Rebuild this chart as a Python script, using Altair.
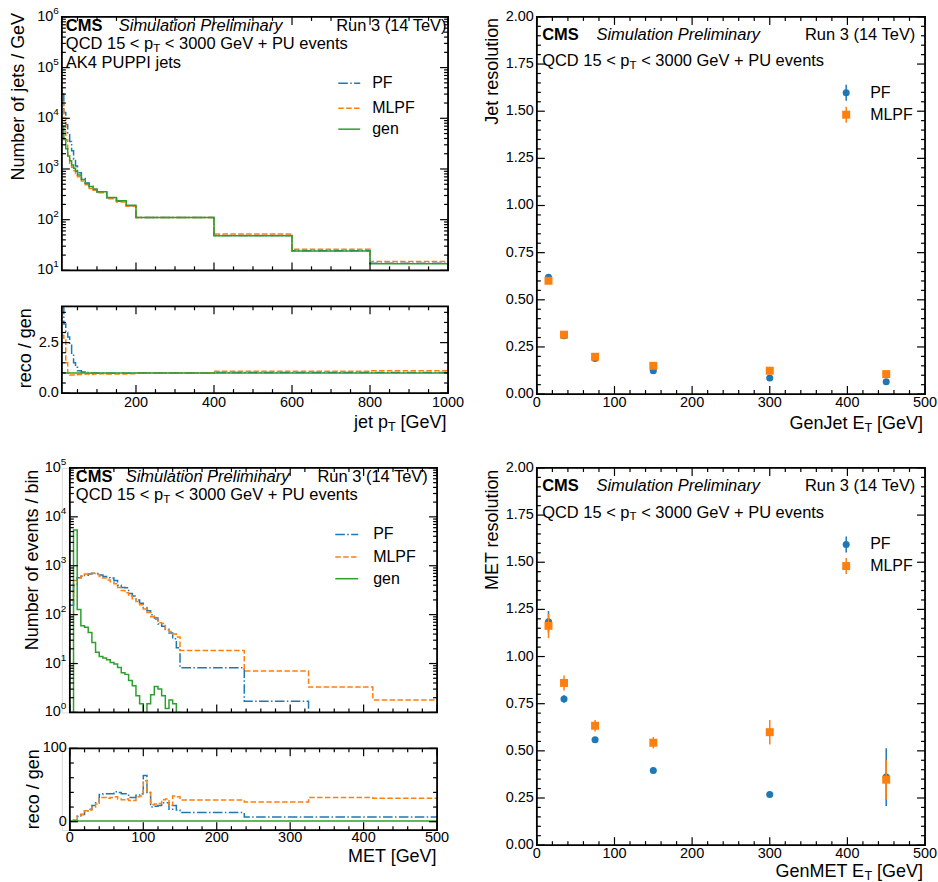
import altair as alt
import pandas as pd

# ---------------- data ----------------
# jet pT spectrum (number of jets / GeV), variable bins
jet_edges = [10, 15, 20, 25, 30, 35, 40, 45, 50, 60, 70, 80, 90, 100, 125, 150, 175, 200, 400, 600, 800, 1000]
jet_pf = [30000, 13000, 7500, 5000, 3500, 2300, 1550, 1150, 840, 650, 530, 450, 400, 350, 270, 230, 188, 110, 49, 24.5, 13.8]
jet_mlpf = [20000, 10000, 3750, 1800, 1300, 1080, 930, 810, 700, 577, 490, 414, 380, 340, 260, 222, 185, 110, 52, 26, 15]
jet_gen = [7000, 3800, 2500, 1800, 1450, 1200, 1030, 900, 760, 620, 520, 450, 400, 355, 275, 235, 192, 110, 48, 24, 13.5]

# MET spectrum (number of events / bin)
met_edges = [0, 5, 10, 15, 20, 25, 30, 35, 40, 45, 50, 55, 60, 65, 70, 75, 80, 85, 90, 95, 100,
             105, 110, 115, 120, 125, 130, 135, 140, 145, 150, 237.5, 325, 412.5, 500]
met_pf = [155, 400, 570, 600, 640, 680, 700, 690, 650, 600, 570, 560, 500, 400, 360, 355, 270, 240, 200, 170,
          140, 120, 100, 85, 64, 58, 50, 42, 32, 21, 8.2, 1.7, 0, 0]
met_mlpf = [200, 500, 560, 620, 680, 700, 690, 660, 600, 560, 510, 470, 430, 360, 310, 280, 240, 210, 185, 160,
            130, 110, 90, 80, 68, 66, 48, 45, 40, 35, 18.5, 7.0, 3.3, 1.8]
met_gen = [0, 5400, 128, 59, 55, 43, 27, 17, 14, 13, 12, 10.5, 9.8, 8.3, 6.5, 6, 4.5, 3.5, 2.2, 1.5,
           0, 1.5, 2.3, 3.4, 3.0, 2.2, 1.2, 1.8, 1.5, 1.0, 0, 0, 0, 0]
met_ratio_pf = [0.5, 2, 7, 10, 15, 17, 22, 26, 37, 38, 38, 38, 41, 40, 38, 38, 33, 33, 36, 38,
                63, 40, 20, 21, 22, 26, 26, 17, 22, 16, 12.5, 6.5, 6.5, 6.5]
met_ratio_mlpf = [0.5, 2.5, 8, 10, 15, 16, 20, 24, 33, 33, 32, 33, 34, 31, 30, 31, 29, 29, 34, 35,
                  56, 40, 23, 24, 25, 30, 31, 22, 35, 34, 29.5, 27, 33, 32]
met_ratio_gen = [1] * 34

# resolutions
res_x = [15, 35, 75, 150, 300, 450]
jet_res_pf = [0.619, 0.309, 0.189, 0.124, 0.085, 0.065]
jet_err_pf = [0.006, 0.004, 0.004, 0.004, 0.005, 0.006]
jet_res_mlpf = [0.601, 0.315, 0.198, 0.150, 0.124, 0.106]
jet_err_mlpf = [0.006, 0.004, 0.004, 0.004, 0.005, 0.006]
met_res_pf = [1.184, 0.775, 0.559, 0.396, 0.268, 0.361]
met_err_pf = [0.057, 0.02, 0.012, 0.015, 0.012, 0.153]
met_res_mlpf = [1.163, 0.86, 0.633, 0.543, 0.599, 0.347]
met_err_mlpf = [0.065, 0.04, 0.03, 0.03, 0.065, 0.105]

# tick values / labels
jet_x_major = [200, 400, 600, 800, 1000]
jet_x_minor = [50, 100, 150, 250, 300, 350, 450, 500, 550, 650, 700, 750, 850, 900, 950]
e500_major = [0, 100, 200, 300, 400, 500]
e500_minor = [20, 40, 60, 80, 120, 140, 160, 180, 220, 240, 260, 280, 320, 340, 360, 380, 420, 440, 460, 480]
res_major = [0, 0.25, 0.5, 0.75, 1.0, 1.25, 1.5, 1.75, 2.0]
res_labels = ["0.00", "0.25", "0.50", "0.75", "1.00", "1.25", "1.50", "1.75", "2.00"]
jet_y_major = [1e1, 1e2, 1e3, 1e4, 1e5, 1e6]
jet_y_exp = ["1", "2", "3", "4", "5", "6"]
met_y_major = [1e0, 1e1, 1e2, 1e3, 1e4, 1e5]
met_y_exp = ["0", "1", "2", "3", "4", "5"]

# ---------------- style ----------------
FONT = "Liberation Sans"
BLUE, ORANGE, GREEN = "#1f77b4", "#ff7f0e", "#2ca02c"
DASH_MLPF = [5.5, 2.4]
DASH_PF = [9.6, 2.4, 1.5, 2.4]
LW = 1.5
TMAJ, TMIN = 8, 4
LFS = 14.5   # tick label size
HFS = 16.5   # header text size
ONE = pd.DataFrame({"k": [0]})

HW = {' ': 278, '(': 333, ')': 333, '+': 584, '/': 278, '<': 584, '[': 278, ']': 278, '.': 278,
      'A': 667, 'C': 722, 'D': 722, 'E': 667, 'F': 611, 'G': 778, 'I': 278, 'J': 500, 'K': 667,
      'L': 556, 'M': 833, 'N': 722, 'P': 667, 'Q': 778, 'R': 722, 'S': 667, 'T': 611, 'U': 722, 'V': 667,
      'a': 556, 'b': 556, 'c': 500, 'e': 556, 'f': 278, 'g': 556, 'i': 222, 'j': 222, 'k': 500, 'l': 222,
      'm': 833, 'n': 556, 'o': 556, 'p': 556, 'r': 333, 's': 500, 't': 278, 'u': 556, 'v': 500, 'y': 500}


def tw(s, size):
    return sum(HW.get(c, 556) for c in s) * size / 1000.0


def txt(s, x, y, size=HFS, style="normal", weight="normal", align="left", baseline="alphabetic", angle=0):
    kw = dict(text=s, font=FONT, fontSize=size, fontStyle=style, fontWeight=weight,
              align=align, baseline=baseline, color="black")
    if angle:
        kw["angle"] = angle
    return alt.Chart(ONE).mark_text(**kw).encode(x=alt.value(x), y=alt.value(y))


def rich(parts, x, y, size=HFS, anchor="left"):
    sub = size * 0.7
    widths = [tw(t, sub if s else size) for t, s in parts]
    cx = x - sum(widths) if anchor == "right" else x
    out = []
    for (t, s), w in zip(parts, widths):
        fs = sub if s else size
        lead = len(t) - len(t.lstrip(" "))
        out.append(txt(t.strip(" "), cx + tw(" " * lead, fs), y + (2.5 if s else 0), size=fs))
        cx += w
    return out


def spacer(x, y):
    # invisible mark that fixes the extent of a panel for the concat layout
    return alt.Chart(ONE).mark_rule(opacity=0, strokeWidth=0.5).encode(
        x=alt.value(x), x2=alt.value(x + 0.5), y=alt.value(y))


def frame(ox, W, H):
    return alt.Chart(ONE).mark_rect(fillOpacity=0, stroke="black", strokeWidth=1.8).encode(
        x=alt.value(ox), x2=alt.value(ox + W), y=alt.value(0), y2=alt.value(H))


def header(ox, x_cms, x_sim, x_run, y1, y2, y3=None):
    out = [txt("CMS", ox + x_cms, y1, weight="bold"),
           txt("Simulation Preliminary", ox + x_sim, y1, style="italic"),
           txt("Run 3 (14 TeV)", ox + x_run, y1, align="right")]
    out += rich([("QCD 15 < p", False), ("T", True), (" < 3000 GeV + PU events", False)], ox + x_cms, y2)
    if y3 is not None:
        out.append(txt("AK4 PUPPI jets", ox + x_cms, y3))
    return out


def xlabels(vals, labels, xs, y):
    df = pd.DataFrame({"v": vals, "t": labels})
    return alt.Chart(df).mark_text(font=FONT, fontSize=LFS, align="center", baseline="top", color="black").encode(
        x=alt.X("v:Q", scale=xs, axis=None), y=alt.value(y), text="t:N")


def ylabels(vals, labels, ys, x):
    df = pd.DataFrame({"v": vals, "t": labels})
    return alt.Chart(df).mark_text(font=FONT, fontSize=LFS, align="right", baseline="middle", color="black").encode(
        y=alt.Y("v:Q", scale=ys, axis=None), x=alt.value(x), text="t:N")


def ylog_labels(vals, exps, ys, x):
    df = pd.DataFrame({"v": vals, "e": exps})
    ew = 10 * 0.556
    base = alt.Chart(df).mark_text(text="10", font=FONT, fontSize=LFS, align="right", baseline="middle",
                                   color="black").encode(y=alt.Y("v:Q", scale=ys, axis=None), x=alt.value(x - ew))
    sup = alt.Chart(df).mark_text(font=FONT, fontSize=10, align="left", baseline="middle", dy=-6,
                                  color="black").encode(y=alt.Y("v:Q", scale=ys, axis=None),
                                                        x=alt.value(x - ew), text="e:N")
    return [base, sup]


def ytitle(s, x, ytop):
    return txt(s, x, ytop, size=18, align="right", baseline="middle", angle=270)


def frame_ticks(xmaj, xmin, ymaj, ymin, ox, W, H, xs, ys):
    out = []
    for vals_x, vals_y, L in ((xmaj, ymaj, TMAJ), (xmin, ymin, TMIN)):
        dx = pd.DataFrame({"v": vals_x})
        dy = pd.DataFrame({"v": vals_y})
        for y1, y2 in ((0, L), (H - L, H)):
            out.append(alt.Chart(dx).mark_rule(color="black", strokeWidth=1.2).encode(
                x=alt.X("v:Q", scale=xs, axis=None), y=alt.value(y1), y2=alt.value(y2)))
        for x1, x2 in ((ox, ox + L), (ox + W - L, ox + W)):
            out.append(alt.Chart(dy).mark_rule(color="black", strokeWidth=1.2).encode(
                y=alt.Y("v:Q", scale=ys, axis=None), x=alt.value(x1), x2=alt.value(x2)))
    return out


def step_df(edges, vals):
    ys = [v if v > 0 else 1e-3 for v in vals]  # empty bins drawn below the axis (clipped)
    return pd.DataFrame({"x": list(edges), "y": ys + [ys[-1]]})


def hist_line(df, color, dash, xs, ys):
    kw = dict(interpolate="step-after", clip=True, color=color, strokeWidth=LW)
    if dash:
        kw["strokeDash"] = dash
    return alt.Chart(df).mark_line(**kw).encode(
        x=alt.X("x:Q", scale=xs, axis=None), y=alt.Y("y:Q", scale=ys, axis=None))


def line_legend(x1, x2, xt, ys):
    out = []
    for (lab, col, dash), y in zip([("PF", BLUE, DASH_PF), ("MLPF", ORANGE, DASH_MLPF), ("gen", GREEN, None)], ys):
        kw = dict(color=col, strokeWidth=LW)
        if dash:
            kw["strokeDash"] = dash
        out.append(alt.Chart(ONE).mark_rule(**kw).encode(x=alt.value(x1), x2=alt.value(x2), y=alt.value(y)))
        out.append(txt(lab, xt, y, size=16, baseline="middle"))
    return out


def marker_legend(xm, xt, ys):
    out = []
    for (lab, col, shp, sz), y in zip([("PF", BLUE, "circle", 50), ("MLPF", ORANGE, "square", 64)], ys):
        out.append(alt.Chart(ONE).mark_rule(color=col, strokeWidth=LW).encode(
            x=alt.value(xm), y=alt.value(y - 8), y2=alt.value(y + 8)))
        out.append(alt.Chart(ONE).mark_point(shape=shp, size=sz, filled=True, opacity=1, color=col).encode(
            x=alt.value(xm), y=alt.value(y)))
        out.append(txt(lab, xt, y, size=16, baseline="middle"))
    return out


def res_layers(vals_pf, err_pf, vals_ml, err_ml, xs, ys):
    df = pd.DataFrame({"x": res_x,
                       "pf": vals_pf, "pf_lo": [v - e for v, e in zip(vals_pf, err_pf)],
                       "pf_hi": [v + e for v, e in zip(vals_pf, err_pf)],
                       "ml": vals_ml, "ml_lo": [v - e for v, e in zip(vals_ml, err_ml)],
                       "ml_hi": [v + e for v, e in zip(vals_ml, err_ml)]})
    base = alt.Chart(df)
    X = alt.X("x:Q", scale=xs, axis=None)
    return [
        base.mark_rule(color=BLUE, strokeWidth=LW).encode(
            x=X, y=alt.Y("pf_lo:Q", scale=ys, axis=None), y2="pf_hi:Q"),
        base.mark_point(shape="circle", size=50, filled=True, opacity=1, color=BLUE).encode(
            x=X, y=alt.Y("pf:Q", scale=ys, axis=None)),
        base.mark_rule(color=ORANGE, strokeWidth=LW).encode(
            x=X, y=alt.Y("ml_lo:Q", scale=ys, axis=None), y2="ml_hi:Q"),
        base.mark_point(shape="square", size=64, filled=True, opacity=1, color=ORANGE).encode(
            x=X, y=alt.Y("ml:Q", scale=ys, axis=None)),
    ]


def log_minor(lo, hi):
    return [m * 10.0 ** k for k in range(lo, hi) for m in range(2, 10)]


# ---------------- top-left: jet pT ----------------
W1, H1, H1r = 387, 254, 87
jx = alt.Scale(domain=[10, 1000], nice=False, zero=False)
jy = alt.Scale(type="log", domain=[10, 1e6], nice=False)
jr = alt.Scale(domain=[0, 4.3], nice=False, zero=False)

tl = alt.layer(
    hist_line(step_df(jet_edges, jet_pf), BLUE, DASH_PF, jx, jy),
    hist_line(step_df(jet_edges, jet_mlpf), ORANGE, DASH_MLPF, jx, jy),
    hist_line(step_df(jet_edges, jet_gen), GREEN, None, jx, jy),
    *frame_ticks(jet_x_major, jet_x_minor, jet_y_major, log_minor(1, 6), 0, W1, H1, jx, jy),
    frame(0, W1, H1),
    *ylog_labels(jet_y_major, jet_y_exp, jy, x=-3),
    ytitle("Number of jets / GeV", -43, -4),
    *header(0, 4, 57, 385.5, 14, 32.5, 51),
    *line_legend(277, 299, 311, [66.5, 91.5, 112.5]),
    spacer(-54, -13), spacer(-54, H1 + 10),
).properties(width=W1, height=H1)

jr_df = pd.DataFrame({"x": jet_edges,
                      "pf": [a / b for a, b in zip(jet_pf, jet_gen)] + [jet_pf[-1] / jet_gen[-1]],
                      "ml": [a / b for a, b in zip(jet_mlpf, jet_gen)] + [jet_mlpf[-1] / jet_gen[-1]],
                      "gen": [1.0] * len(jet_edges)})
tlr = alt.layer(
    hist_line(jr_df.rename(columns={"pf": "y"}), BLUE, DASH_PF, jx, jr),
    hist_line(jr_df.rename(columns={"ml": "y"}), ORANGE, DASH_MLPF, jx, jr),
    hist_line(jr_df.rename(columns={"gen": "y"}), GREEN, None, jx, jr),
    *frame_ticks(jet_x_major, jet_x_minor, [0, 2.5], [0.5, 1.0, 1.5, 2.0, 3.0, 3.5, 4.0], 0, W1, H1r, jx, jr),
    frame(0, W1, H1r),
    xlabels(jet_x_major, [str(v) for v in jet_x_major], jx, H1r + 2.5),
    ylabels([0, 2.5], ["0.0", "2.5"], jr, x=-3),
    ytitle("reco / gen", -36, 2),
    *rich([("jet p", False), ("T", True), (" [GeV]", False)], W1 - 1.5, H1r + 35, size=18, anchor="right"),
    spacer(-54, 0),
).properties(width=W1, height=H1r)

# ---------------- top-right: jet resolution ----------------
WR, HR = 389, 378
rx = alt.Scale(domain=[0, 500], nice=False, zero=False)
ry = alt.Scale(domain=[0, 2], nice=False, zero=False)
res_minor = [round(0.05 * i, 2) for i in range(1, 40) if i % 5]
tr = alt.layer(
    *res_layers(jet_res_pf, jet_err_pf, jet_res_mlpf, jet_err_mlpf, rx, ry),
    *frame_ticks(e500_major, e500_minor, res_major, res_minor, 0, WR, HR, rx, ry),
    frame(0, WR, HR),
    xlabels(e500_major, [str(v) for v in e500_major], rx, HR + 2),
    ylabels(res_major, res_labels, ry, x=-3),
    ytitle("Jet resolution", -43.5, 1),
    *header(0, 5.3, 59.7, 379.3, 22.7, 49.3),
    *marker_legend(310, 334, [76, 98]),
    *rich([("GenJet E", False), ("T", True), (" [GeV]", False)], WR - 2, HR + 35, size=18, anchor="right"),
    spacer(-53, -13), spacer(-53, HR + 40),
).properties(width=WR, height=HR)

# ---------------- bottom-left: MET (plot area shifted right by OX inside its view) ----------------
OX = 8
W2, H2, H2r = 368, 245, 82
mx = alt.Scale(domain=[0, 500], range=[OX, OX + W2], nice=False, zero=False)
my = alt.Scale(type="log", domain=[1, 1e5], nice=False)
mr = alt.Scale(domain=[-11.5, 100], nice=False, zero=False)
bl = alt.layer(
    hist_line(step_df(met_edges, met_pf), BLUE, DASH_PF, mx, my),
    hist_line(step_df(met_edges, met_mlpf), ORANGE, DASH_MLPF, mx, my),
    hist_line(step_df(met_edges, met_gen), GREEN, None, mx, my),
    *frame_ticks(e500_major, e500_minor, met_y_major, log_minor(0, 5), OX, W2, H2, mx, my),
    frame(OX, W2, H2),
    *ylog_labels(met_y_major, met_y_exp, my, x=OX - 3.5),
    ytitle("Number of events / bin", OX - 36.5, 1.7),
    *header(OX, 6, 56, 358.7, 14, 32.5),
    *line_legend(OX + 266, OX + 289, OX + 304, [66.7, 89.3, 111]),
    spacer(OX - 62, -13), spacer(OX - 62, H2 + 10),
).properties(width=W2 + OX, height=H2)

blr = alt.layer(
    hist_line(step_df(met_edges, met_ratio_pf), BLUE, DASH_PF, mx, mr),
    hist_line(step_df(met_edges, met_ratio_mlpf), ORANGE, DASH_MLPF, mx, mr),
    hist_line(step_df(met_edges, met_ratio_gen), GREEN, None, mx, mr),
    *frame_ticks(e500_major, e500_minor, [0, 100], [20, 40, 60, 80], OX, W2, H2r, mx, mr),
    frame(OX, W2, H2r),
    xlabels(e500_major, [str(v) for v in e500_major], mx, H2r + 1),
    ylabels([0, 100], ["0", "100"], mr, x=OX - 3),
    ytitle("reco / gen", OX - 36, 1),
    txt("MET [GeV]", OX + W2 - 0.5, H2r + 32.3, size=18, align="right"),
    spacer(OX - 62, -10),
).properties(width=W2 + OX, height=H2r)

# ---------------- bottom-right: MET resolution ----------------
br = alt.layer(
    *res_layers(met_res_pf, met_err_pf, met_res_mlpf, met_err_mlpf, rx, ry),
    *frame_ticks(e500_major, e500_minor, res_major, res_minor, 0, WR, HR, rx, ry),
    frame(0, WR, HR),
    xlabels(e500_major, [str(v) for v in e500_major], rx, HR + 2),
    ylabels(res_major, res_labels, ry, x=-3),
    ytitle("MET resolution", -43.5, 1.7),
    *header(0, 5.3, 59.7, 379.3, 23.3, 50),
    *marker_legend(310, 334, [76.7, 98.3]),
    *rich([("GenMET E", False), ("T", True), (" [GeV]", False)], WR - 2, HR + 32, size=18, anchor="right"),
    spacer(-53, -13),
).properties(width=WR, height=HR)

row1 = alt.hconcat(alt.vconcat(tl, tlr, spacing=23), tr, spacing=18)
row2 = alt.hconcat(alt.vconcat(bl, blr, spacing=14), br, spacing=33)

chart = alt.vconcat(row1, row2, spacing=19).properties(
    padding={"left": 7, "top": 2, "right": 0, "bottom": 0}
).configure_view(stroke="transparent").configure(font=FONT, background="white")

chart.save("out.html", embed_options={"renderer": "svg", "actions": False})
